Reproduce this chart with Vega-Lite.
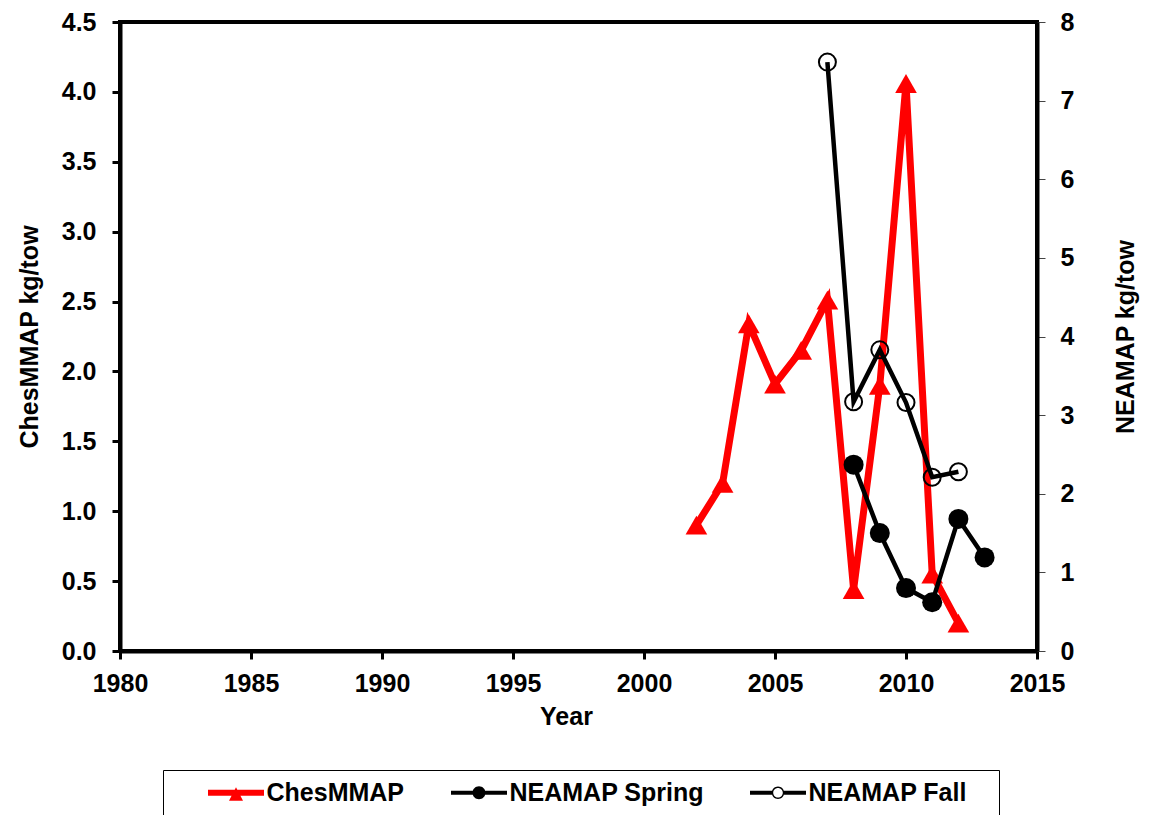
{
  "$schema": "https://vega.github.io/schema/vega-lite/v6.json",
  "width": 917,
  "height": 629,
  "autosize": {"type": "none"},
  "padding": {"left": 120, "top": 22, "right": 112, "bottom": 164},
  "background": "#ffffff",
  "data": {
    "values": [
      {"year": 2002, "series": "ChesMMAP", "value": 0.90},
      {"year": 2003, "series": "ChesMMAP", "value": 1.20},
      {"year": 2004, "series": "ChesMMAP", "value": 2.34},
      {"year": 2005, "series": "ChesMMAP", "value": 1.91},
      {"year": 2006, "series": "ChesMMAP", "value": 2.15},
      {"year": 2007, "series": "ChesMMAP", "value": 2.51},
      {"year": 2008, "series": "ChesMMAP", "value": 0.44},
      {"year": 2009, "series": "ChesMMAP", "value": 1.90},
      {"year": 2010, "series": "ChesMMAP", "value": 4.06},
      {"year": 2011, "series": "ChesMMAP", "value": 0.55},
      {"year": 2012, "series": "ChesMMAP", "value": 0.20},
      {"year": 2008, "series": "NEAMAP Spring", "value": 2.37},
      {"year": 2009, "series": "NEAMAP Spring", "value": 1.50},
      {"year": 2010, "series": "NEAMAP Spring", "value": 0.80},
      {"year": 2011, "series": "NEAMAP Spring", "value": 0.62},
      {"year": 2012, "series": "NEAMAP Spring", "value": 1.68},
      {"year": 2013, "series": "NEAMAP Spring", "value": 1.19},
      {"year": 2007, "series": "NEAMAP Fall", "value": 7.49},
      {"year": 2008, "series": "NEAMAP Fall", "value": 3.17},
      {"year": 2009, "series": "NEAMAP Fall", "value": 3.83},
      {"year": 2010, "series": "NEAMAP Fall", "value": 3.16},
      {"year": 2011, "series": "NEAMAP Fall", "value": 2.21},
      {"year": 2012, "series": "NEAMAP Fall", "value": 2.28}
    ]
  },
  "encoding": {
    "x": {
      "field": "year",
      "type": "quantitative",
      "scale": {"domain": [1980, 2015], "nice": false, "zero": false},
      "axis": {
        "title": "Year",
        "values": [1980, 1985, 1990, 1995, 2000, 2005, 2010, 2015],
        "format": "d",
        "labelPadding": 12,
        "titlePadding": 8,
        "titleX": 446
      }
    }
  },
  "layer": [
    {
      "transform": [{"filter": "datum.series == 'ChesMMAP'"}],
      "encoding": {
        "y": {
          "field": "value",
          "type": "quantitative",
          "scale": {"domain": [0, 4.5], "nice": false},
          "axis": {
            "orient": "left",
            "title": "ChesMMAP kg/tow",
            "values": [0, 0.5, 1, 1.5, 2, 2.5, 3, 3.5, 4, 4.5],
            "format": ".1f",
            "titlePadding": 19
          }
        }
      },
      "layer": [
        {"mark": {"type": "line", "color": "#ff0000", "strokeWidth": 7}},
        {"mark": {"type": "point", "shape": "triangle-up", "filled": true, "color": "#ff0000", "size": 470, "opacity": 1}}
      ]
    },
    {
      "encoding": {
        "y": {
          "field": "value",
          "type": "quantitative",
          "scale": {"domain": [0, 8], "nice": false},
          "axis": {
            "orient": "right",
            "title": "NEAMAP kg/tow",
            "values": [0, 1, 2, 3, 4, 5, 6, 7, 8],
            "titleAngle": 270,
            "titlePadding": 65,
            "labelPadding": 15,
            "tickWidth": 1,
            "tickColor": "#444444"
          }
        }
      },
      "layer": [
        {
          "transform": [{"filter": "datum.series == 'NEAMAP Spring'"}],
          "mark": {"type": "line", "color": "#000000", "strokeWidth": 4.5}
        },
        {
          "transform": [{"filter": "datum.series == 'NEAMAP Spring'"}],
          "mark": {"type": "point", "shape": "circle", "filled": true, "color": "#000000", "size": 400, "opacity": 1}
        },
        {
          "transform": [{"filter": "datum.series == 'NEAMAP Fall'"}],
          "mark": {"type": "line", "color": "#000000", "strokeWidth": 4.5}
        },
        {
          "transform": [{"filter": "datum.series == 'NEAMAP Fall'"}],
          "mark": {"type": "point", "shape": "circle", "filled": false, "color": "#000000", "strokeWidth": 2, "size": 289, "opacity": 1}
        },
        {
          "mark": {"type": "point", "filled": true, "opacity": 0},
          "encoding": {
            "color": {
              "field": "series",
              "type": "nominal",
              "scale": {
                "domain": ["ChesMMAP", "NEAMAP Spring", "NEAMAP Fall"],
                "range": ["#ff0000", "#000000", "#000000"]
              },
              "legend": {
                "title": " ",
                "titleOrient": "right",
                "titlePadding": 22,
                "orient": "none",
                "legendX": 43,
                "legendY": 748,
                "direction": "horizontal",
                "columns": 3,
                "padding": 10,
                "strokeColor": "#000000",
                "fillColor": "#ffffff",
                "symbolSize": 400,
                "symbolStrokeWidth": 0,
                "symbolOpacity": 1,
                "symbolOffset": 50.5,
                "labelOffset": 18,
                "labelFont": "Liberation Sans",
                "labelFontSize": 25,
                "labelFontWeight": "bold",
                "labelColor": "#000000",
                "labelLimit": 0,
                "columnPadding": 11
              }
            },
            "shape": {
              "field": "series",
              "type": "nominal",
              "scale": {
                "domain": ["ChesMMAP", "NEAMAP Spring", "NEAMAP Fall"],
                "range": [
                  "M-2.8,-0.3L2.8,-0.3L2.8,0.3L-2.8,0.3Z M0,-0.55L0.7,0.8L-0.7,0.8Z",
                  "M-2.8,-0.2L2.8,-0.2L2.8,0.2L-2.8,0.2Z M0.65,0A0.65,0.65 0 1 1 -0.65,0A0.65,0.65 0 1 1 0.65,0Z",
                  "M-2.8,-0.2L-0.6,-0.2L-0.6,0.2L-2.8,0.2Z M0.6,-0.2L2.8,-0.2L2.8,0.2L0.6,0.2Z M0.62,0A0.62,0.62 0 1 1 -0.62,0A0.62,0.62 0 1 1 0.62,0Z M0.48,0A0.48,0.48 0 1 0 -0.48,0A0.48,0.48 0 1 0 0.48,0Z"
                ]
              },
              "legend": {
                "title": " ",
                "titleOrient": "right",
                "titlePadding": 22,
                "orient": "none",
                "legendX": 43,
                "legendY": 748,
                "direction": "horizontal",
                "columns": 3,
                "padding": 10,
                "strokeColor": "#000000",
                "fillColor": "#ffffff",
                "symbolSize": 400,
                "symbolStrokeWidth": 0,
                "symbolOpacity": 1,
                "symbolOffset": 50.5,
                "labelOffset": 18,
                "labelFont": "Liberation Sans",
                "labelFontSize": 25,
                "labelFontWeight": "bold",
                "labelColor": "#000000",
                "labelLimit": 0,
                "columnPadding": 11
              }
            }
          }
        }
      ]
    }
  ],
  "resolve": {"scale": {"y": "independent"}},
  "config": {
    "font": "Liberation Sans",
    "view": {"stroke": "#000000", "strokeWidth": 4},
    "axis": {
      "labelFont": "Liberation Sans",
      "labelFontSize": 25,
      "labelFontWeight": "bold",
      "labelColor": "#000000",
      "titleFont": "Liberation Sans",
      "titleFontSize": 25,
      "titleFontWeight": "bold",
      "titleColor": "#000000",
      "domainColor": "#000000",
      "domainWidth": 4,
      "tickColor": "#000000",
      "tickWidth": 3,
      "tickSize": 8,
      "grid": false,
      "labelPadding": 16,
      "labelOverlap": false,
      "labelFlush": false
    }
  }
}
